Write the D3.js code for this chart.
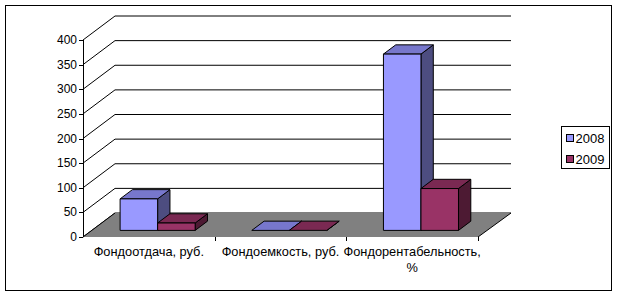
<!DOCTYPE html>
<html>
<head>
<meta charset="utf-8">
<script src="https://cdnjs.cloudflare.com/ajax/libs/d3/7.8.5/d3.min.js"></script>
<style>
  body { margin: 0; background: #fff; }
  text { font-family: "Liberation Sans", Arial, sans-serif; font-size: 12px; fill: #000; }
</style>
</head>
<body>
<div id="Vis"></div>
<script>
// chart data
var categories = ["Фондоотдача, руб.", "Фондоемкость, руб.", "Фондорентабельность, %"];
var seriesNames = ["2008", "2009"];
var values2008 = [64, 0.016, 358];
var values2009 = [15, 0.067, 85];
var yTicks = [0, 50, 100, 150, 200, 250, 300, 350, 400];

var W = 619, H = 297;

var svg = d3.select("#Vis")
  .append("svg")
    .attr("width", W)
    .attr("height", H);

// outer frame
svg.append("rect")
  .attr("x", 5.5).attr("y", 5.5)
  .attr("width", 606).attr("height", 285)
  .attr("fill", "#fff")
  .attr("stroke", "#000")
  .attr("stroke-width", 1);

// front plane scales
var x0 = d3.scaleBand()
  .domain(categories)
  .range([83, 478]);

var y = d3.scaleLinear()
  .domain([0, 400])
  .range([237, 40]);

// depth of the floor (pixels)
var depthX = 32, depthY = -24;
var backRight = 511;

// back wall gridlines + left wall diagonals
var grid = svg.append("g");
yTicks.forEach(function(t) {
  var yy = y(t);
  grid.append("path")
    .attr("d", "M83," + yy + "L" + (83 + depthX) + "," + (yy + depthY) + "L" + backRight + "," + (yy + depthY))
    .attr("fill", "none")
    .attr("stroke", "#000")
    .attr("stroke-width", 1);
});

// floor
var y0 = y(0);
svg.append("path")
  .attr("d", "M83," + y0 + "L" + (83 + depthX) + "," + (y0 + depthY) +
             "L" + backRight + "," + (y0 + depthY) + "L" + 478 + "," + y0 + "Z")
  .attr("fill", "#808080")
  .attr("stroke", "none");
// left and right floor edges
svg.append("line")
  .attr("x1", 83).attr("y1", y0).attr("x2", 83 + depthX).attr("y2", y0 + depthY)
  .attr("stroke", "#000");
svg.append("line")
  .attr("x1", 478).attr("y1", y0).attr("x2", backRight).attr("y2", y0 + depthY)
  .attr("stroke", "#000");

// Y axis
svg.append("line")
  .attr("x1", 83.5).attr("y1", y(400)).attr("x2", 83.5).attr("y2", y0)
  .attr("stroke", "#000");
var yAx = svg.append("g");
yTicks.forEach(function(t) {
  yAx.append("line")
    .attr("x1", 79).attr("x2", 83)
    .attr("y1", Math.round(y(t)) + 0.5).attr("y2", Math.round(y(t)) + 0.5)
    .attr("stroke", "#000");
  yAx.append("text")
    .attr("x", 77)
    .attr("y", y(t) + 4)
    .attr("text-anchor", "end")
    .text(t);
});

// category ticks
categories.forEach(function(c) {
  var xx = Math.round(x0(c) + x0.bandwidth()) + 0.5;
  svg.append("line")
    .attr("x1", xx).attr("x2", xx)
    .attr("y1", y0).attr("y2", y0 + 4)
    .attr("stroke", "#000");
});

// bars
var groupW = x0.bandwidth() * 0.57;
var x1 = d3.scaleBand()
  .domain(seriesNames)
  .range([0, groupW]);

var colors = {
  "2008": { front: "#9999FF", top: "#7777CC", side: "#4D4D80" },
  "2009": { front: "#993366", top: "#7A2952", side: "#4D1A33" }
};

var f0 = 0.275, f1 = 0.66;   // bar depth position inside the floor
var bdx = depthX * (f1 - f0), bdy = depthY * (f1 - f0);

var bars = [];
categories.forEach(function(c, i) {
  bars.push({ cat: c, s: "2008", v: values2008[i] });
  bars.push({ cat: c, s: "2009", v: values2009[i] });
});

var barG = svg.append("g");
bars.forEach(function(d) {
  var xl = x0(d.cat) + (x0.bandwidth() - groupW) / 2 + x1(d.s) + depthX * f0;
  var xr = xl + x1.bandwidth();
  var yb = y(0) + depthY * f0;
  var yt = y(d.v) + depthY * f0;
  var col = colors[d.s];
  var g = barG.append("g")
    .attr("stroke", "#000")
    .attr("stroke-width", 1)
    .attr("stroke-linejoin", "round");
  // side
  g.append("path")
    .attr("d", "M" + xr + "," + yb + "L" + (xr + bdx) + "," + (yb + bdy) +
               "L" + (xr + bdx) + "," + (yt + bdy) + "L" + xr + "," + yt + "Z")
    .attr("fill", col.side);
  // top
  g.append("path")
    .attr("d", "M" + xl + "," + yt + "L" + (xl + bdx) + "," + (yt + bdy) +
               "L" + (xr + bdx) + "," + (yt + bdy) + "L" + xr + "," + yt + "Z")
    .attr("fill", col.top);
  // front
  if (yb - yt > 0.5) {
    g.append("rect")
      .attr("x", xl).attr("y", yt)
      .attr("width", xr - xl).attr("height", yb - yt)
      .attr("fill", col.front);
  }
});

// category labels
var labG = svg.append("g");
categories.forEach(function(c) {
  var cx = x0(c) + x0.bandwidth() / 2;
  var lines = c === "Фондорентабельность, %" ? ["Фондорентабельность,", "%"] : [c];
  lines.forEach(function(l, k) {
    labG.append("text")
      .attr("x", cx)
      .attr("y", 256 + k * 15.5)
      .attr("text-anchor", "middle")
      .style("font-size", "12.8px")
      .text(l);
  });
});

// legend
var leg = svg.append("g");
leg.append("rect")
  .attr("x", 561.5).attr("y", 126.5)
  .attr("width", 48).attr("height", 42)
  .attr("fill", "#fff")
  .attr("stroke", "#000");
seriesNames.forEach(function(s, i) {
  var cy = 138 + i * 21;
  leg.append("rect")
    .attr("x", 566.5).attr("y", cy - 3.5)
    .attr("width", 7).attr("height", 7)
    .attr("fill", colors[s].front)
    .attr("stroke", "#000");
  leg.append("text")
    .attr("x", 575.5)
    .attr("y", cy + 5)
    .style("font-size", "13px")
    .text(s);
});
</script>
</body>
</html>
